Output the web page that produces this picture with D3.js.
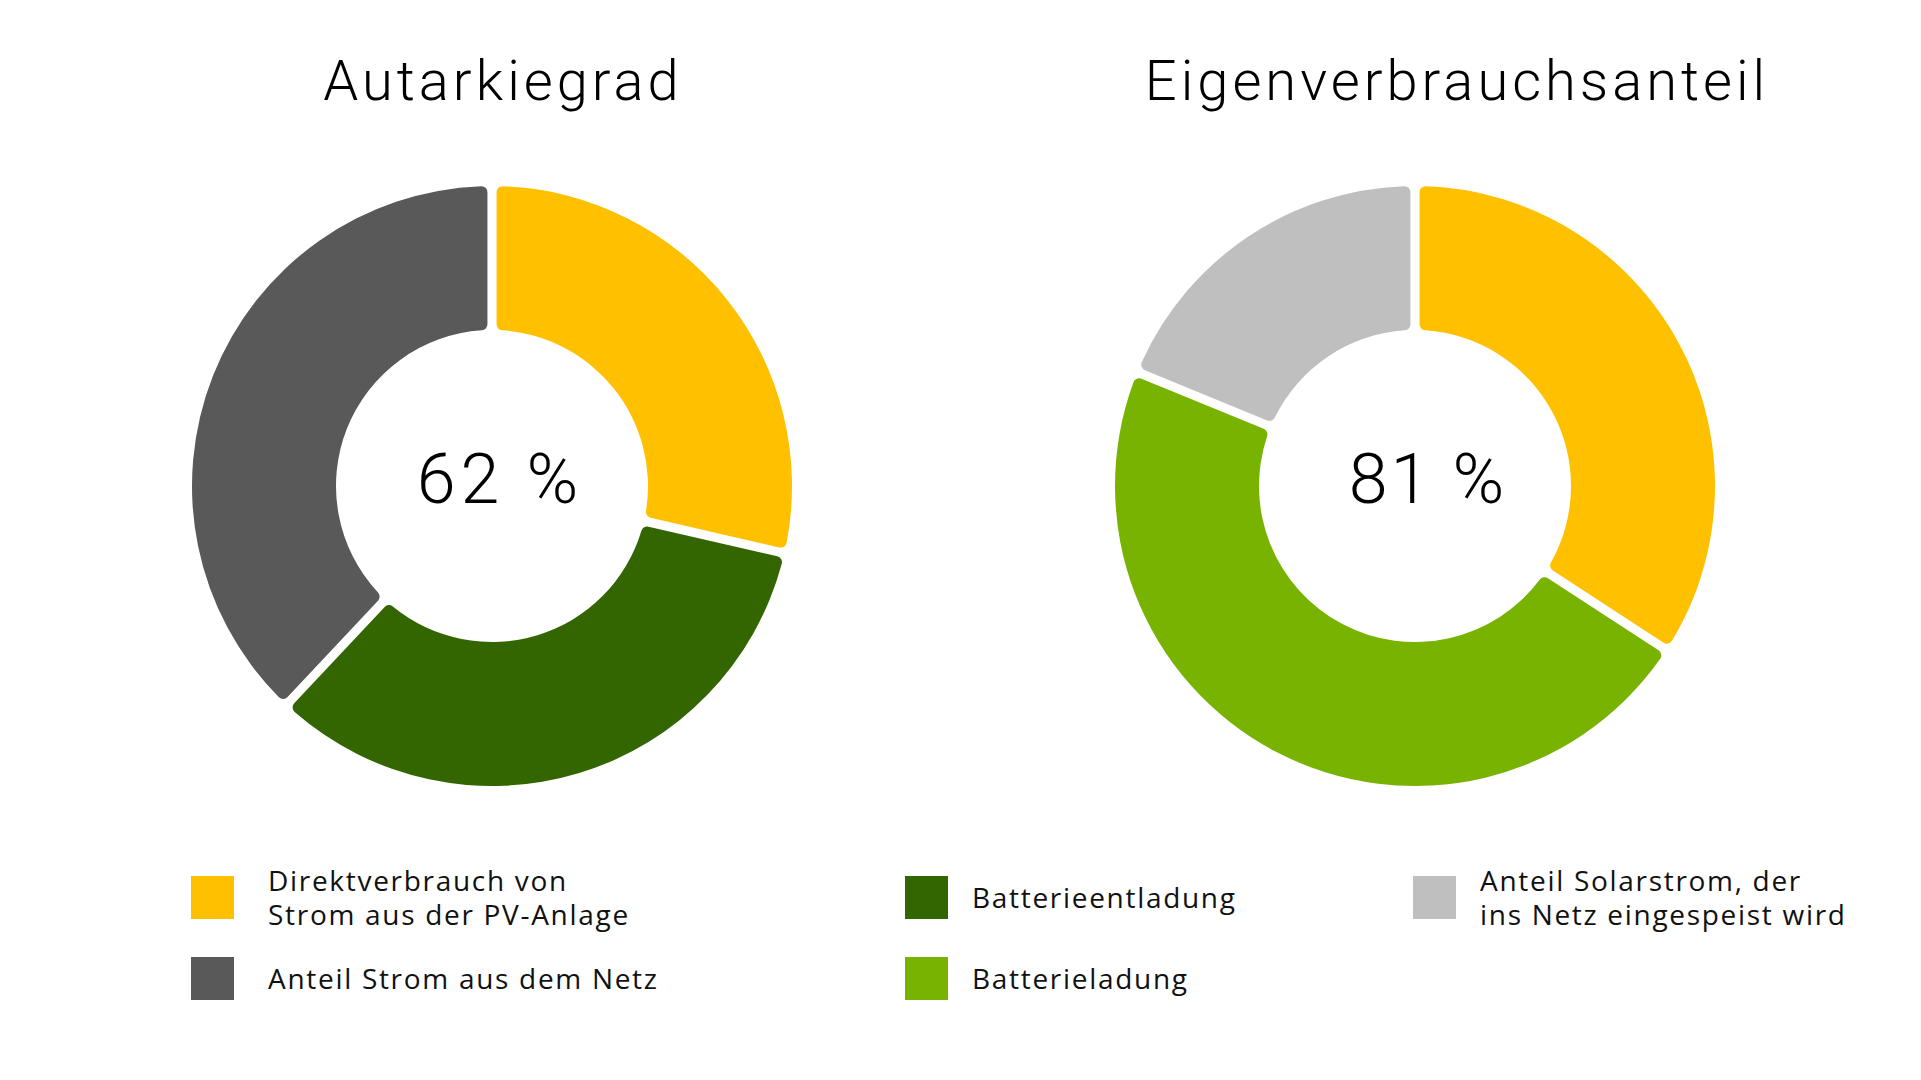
<!DOCTYPE html>
<html>
<head>
<meta charset="utf-8">
<script src="https://cdn.jsdelivr.net/npm/d3@7"></script>
<style>
  html, body { margin: 0; padding: 0; background: #fff; }
  svg { display: block; }
</style>
</head>
<body>
<div id="chart"></div>
<script>
// ---- Data ----
const chartTitles = ["Autarkiegrad", "Eigenverbrauchsanteil"];
const centerLabels = ["62 %", "81 %"];

const autarkieKeys = ["direkt", "entladung", "netz"];
const autarkieValues = [28.6, 33.4, 38.0];

const eigenKeys = ["direkt", "ladung", "einspeisung"];
const eigenValues = [34.2, 47.0, 18.8];

const legendKeys = ["direkt", "netz", "entladung", "ladung", "einspeisung"];
const legendLabels = [
  ["Direktverbrauch von", "Strom aus der PV-Anlage"],
  ["Anteil Strom aus dem Netz"],
  ["Batterieentladung"],
  ["Batterieladung"],
  ["Anteil Solarstrom, der", "ins Netz eingespeist wird"]
];

const colors = {
  direkt: "#ffc000",
  entladung: "#336600",
  netz: "#595959",
  ladung: "#77b300",
  einspeisung: "#bfbfbf"
};

// ---- Layout ----
const W = 1921, H = 1080;
const outerR = 300, innerR = 156;
const centersX = [492, 1415];
const centerY = 486;

const svg = d3.select("#chart").append("svg")
  .attr("width", W).attr("height", H);

const pie = d3.pie().sort(null).value(d => d.v);
const arc = d3.arc()
  .innerRadius(innerR).outerRadius(outerR)
  .padAngle(0.027).cornerRadius(6);

const donuts = [
  autarkieKeys.map((k, i) => ({ k, v: autarkieValues[i] })),
  eigenKeys.map((k, i) => ({ k, v: eigenValues[i] }))
];

// title / centre label anchors (reference is not exactly centred on the rings)
const titleX = [503, 1457];
const labelDx = [8, 13];
const labelSpacing = [5, 3];

donuts.forEach((dat, j) => {
  const g = svg.append("g").attr("transform", `translate(${centersX[j]},${centerY})`);
  g.selectAll("path")
    .data(pie(dat))
    .join("path")
    .attr("d", arc)
    .attr("fill", d => colors[d.data.k]);

  g.append("text")
    .attr("x", labelDx[j])
    .attr("y", 17)
    .attr("text-anchor", "middle")
    .attr("font-family", "Roboto, sans-serif")
    .attr("font-weight", 300)
    .attr("font-size", 70)
    .attr("letter-spacing", labelSpacing[j])
    .attr("fill", "#000")
    .text(centerLabels[j]);

  svg.append("text")
    .attr("x", titleX[j])
    .attr("y", 100)
    .attr("text-anchor", "middle")
    .attr("font-family", "Roboto, sans-serif")
    .attr("font-weight", 300)
    .attr("font-size", 56)
    .attr("letter-spacing", 4)
    .attr("fill", "#000")
    .text(chartTitles[j]);
});

// ---- Legend ----
const legendPos = [
  { x: 191, y: 876, tx: 268 }, { x: 191, y: 957, tx: 268 },
  { x: 905, y: 876, tx: 972 }, { x: 905, y: 957, tx: 972 },
  { x: 1413, y: 876, tx: 1480 }
];
const box = 43, lineH = 34;

const leg = svg.append("g");
legendKeys.forEach((k, i) => {
  const p = legendPos[i];
  leg.append("rect")
    .attr("x", p.x).attr("y", p.y)
    .attr("width", box).attr("height", box)
    .attr("fill", colors[k]);
  const lines = legendLabels[i];
  const mid = p.y + box / 2;
  const first = mid + 10 - (lines.length - 1) * lineH / 2;
  const t = leg.append("text")
    .attr("font-family", "'Open Sans', sans-serif")
    .attr("font-size", 28)
    .attr("letter-spacing", 1.7)
    .attr("fill", "#111");
  lines.forEach((s, li) => {
    t.append("tspan")
      .attr("x", p.tx)
      .attr("y", first + li * lineH)
      .text(s);
  });
});
</script>
</body>
</html>
